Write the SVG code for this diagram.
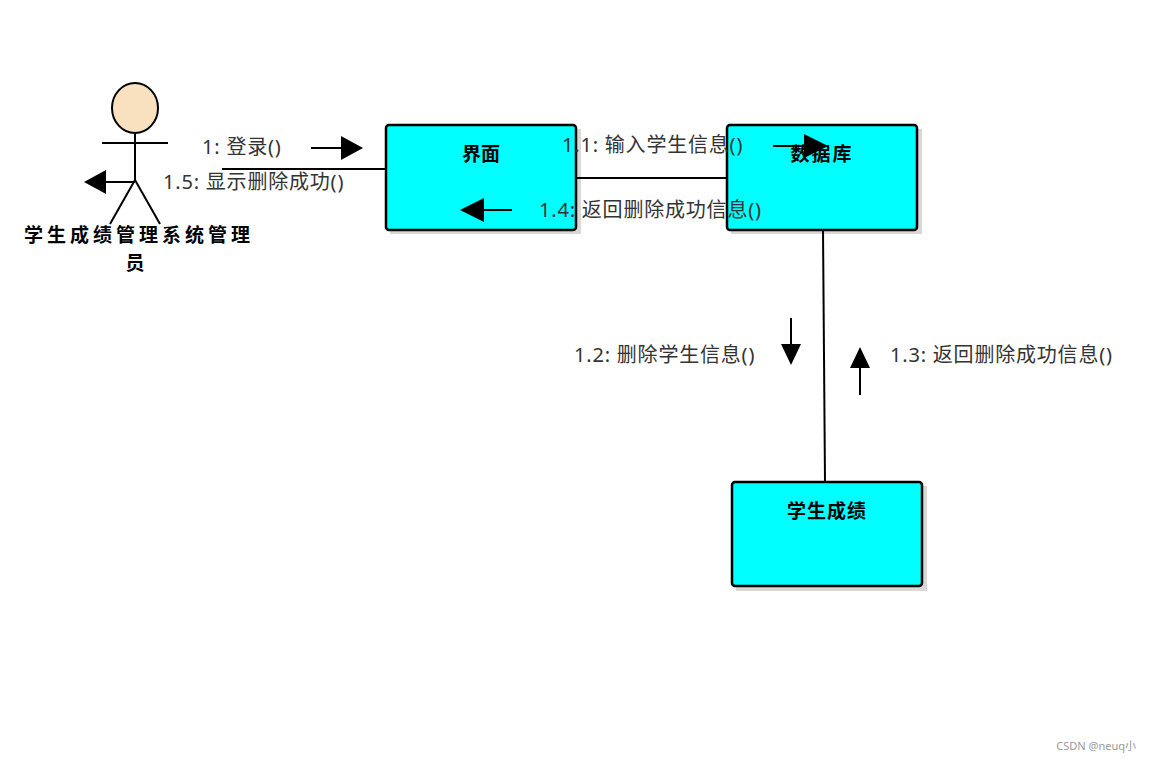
<svg xmlns="http://www.w3.org/2000/svg" width="1151" height="762" viewBox="0 0 1151 762">
<style>
.box{fill:#00ffff;stroke:#000;stroke-width:2.5}
.sh{fill:#d8d8d8}
.t{font-family:"Noto Sans","Noto Sans CJK SC",sans-serif;font-size:20px;letter-spacing:0.8px;fill:#333}
.b{font-family:"Noto Sans CJK SC",sans-serif;font-size:19px;font-weight:bold;fill:#000}
.l{stroke:#000;stroke-width:2;fill:none}
</style>
<rect width="1151" height="762" fill="#fff"/>
<g id="actor">
<ellipse cx="135" cy="108" rx="23" ry="25" fill="#f9e0bf" stroke="#000" stroke-width="2"/>
<line class="l" x1="135" y1="133" x2="135" y2="180"/>
<line class="l" x1="102" y1="143" x2="168" y2="143"/>
<line class="l" x1="135" y1="180" x2="110" y2="224"/>
<line class="l" x1="135" y1="180" x2="160" y2="224"/>
<text class="b" x="139" y="242" text-anchor="middle" letter-spacing="4">学生成绩管理系统管理</text>
<text class="b" x="135" y="270" text-anchor="middle">员</text>
</g>
<g id="ui">
<rect class="sh" x="390" y="129" width="191" height="105"/>
<rect class="box" x="386" y="125" width="190" height="105" rx="3"/>
<text class="b" x="481" y="161" text-anchor="middle">界面</text>
</g>
<g id="db">
<rect class="sh" x="731" y="129" width="191" height="105"/>
<rect class="box" x="727" y="125" width="190" height="105" rx="3"/>
<text class="b" x="822" y="161" text-anchor="middle" letter-spacing="2">数据库</text>
</g>
<g id="score">
<rect class="sh" x="736" y="486" width="191" height="105"/>
<rect class="box" x="732" y="482" width="190" height="104" rx="3"/>
<text class="b" x="827" y="518" text-anchor="middle" letter-spacing="1">学生成绩</text>
</g>
<g id="connectors">
<line class="l" x1="222" y1="169" x2="386" y2="169"/>
<line class="l" x1="576" y1="178" x2="727" y2="178"/>
<line class="l" x1="823" y1="230" x2="825" y2="481"/>
<line class="l" x1="311" y1="148" x2="345" y2="148"/><polygon points="341,136 363,148 341,160"/>
<line class="l" x1="105" y1="182" x2="135" y2="182"/><polygon points="106,170 84,182 106,194"/>
<line class="l" x1="512" y1="210" x2="482" y2="210"/><polygon points="484,198 460,210 484,222"/>
<line class="l" x1="773" y1="146" x2="808" y2="146"/><polygon points="804,134 828,146 804,158"/>
<line class="l" x1="791" y1="318" x2="791" y2="346"/><polygon points="781,344 791,365 801,344"/>
<line class="l" x1="860" y1="395" x2="860" y2="366"/><polygon points="850,368 860,347 870,368"/>
<text class="t" x="202" y="154">1: 登录()</text>
<text class="t" x="163" y="189">1.5: 显示删除成功()</text>
<text class="t" x="562" y="152">1.1: 输入学生信息()</text>
<text class="t" x="539" y="217">1.4: 返回删除成功信息()</text>
<text class="t" x="574" y="362">1.2: 删除学生信息()</text>
<text class="t" x="890" y="362">1.3: 返回删除成功信息()</text>
</g>
<text x="1136" y="750" text-anchor="end" font-family="Noto Sans,Noto Sans CJK SC,sans-serif" font-size="11" fill="#999">CSDN @neuq小</text>
</svg>
